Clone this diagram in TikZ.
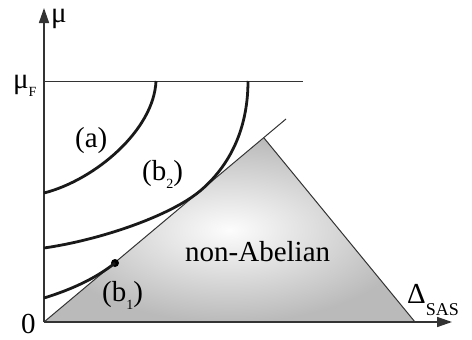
\documentclass[tikz,border=0pt]{standalone}
\usepackage{fontspec}
\setmainfont{Liberation Serif}
\newfontfamily\tms{Liberation Serif}
\usetikzlibrary{arrows.meta}
\begin{document}
\begin{tikzpicture}[x=1pt,y=-1pt]
\tikzset{
 axisline/.style={draw=black!80, line width=1.5pt, -{Triangle[length=15pt,width=10pt]}},
 thinline/.style={draw=black!80, line width=1pt},
 curveline/.style={draw=black!90, line width=2.8pt},
 lbl/.style={inner sep=0pt, font=\tms\fontsize{29}{34}\selectfont, anchor=base west},
}
\useasboundingbox (0,0) rectangle (472,340);
% key points
\coordinate (O) at (44,322);
\coordinate (ytip) at (44,8);
\coordinate (xtip) at (452,322);
\coordinate (apex) at (264,138);
\coordinate (base) at (415,322);
\coordinate (diagend) at (286,119);
\coordinate (muFl) at (44,81);
\coordinate (muFr) at (303,81);
\coordinate (a0) at (156,81);
\coordinate (a1) at (44,193);
\coordinate (b20) at (248,81);
\coordinate (b2m) at (200,191);
\coordinate (b21) at (44,248);
\coordinate (b10) at (44,298);
% shaded region
\shade[inner color=black!1, outer color=black!27] (O) -- (apex) -- (base) -- cycle;
\draw[thinline] (O) -- (diagend);
\draw[thinline] (apex) -- (base);
\draw[thinline] (muFl) -- (muFr);
% axes
\draw[axisline] (O) -- (ytip);
\draw[axisline] (O) -- (xtip);
% curves
\draw[curveline] (a0) .. controls (154,130) and (95,180) .. (a1);
\draw[curveline] (b20) .. controls (248,135) and (225,170) .. (b2m)
                 .. controls (170,216) and (100,240) .. (b21);
\node[circle, fill=black, inner sep=0pt, minimum size=8pt] (dot) at (115,263) {};
\draw[curveline] (b10) .. controls (70,290) and (95,279) .. (dot.center);
% labels
\node[lbl] (mu) at (51,22) {μ};
\node[lbl] (muF) at (13,88) {μ\raisebox{-9pt}{\fontsize{14}{14}\selectfont F}};
\node[lbl] (zero) at (21,333) {0};
\node[lbl] (la) at (75,147) {(a)};
\node[lbl] (lb2) at (142,180) {(b\raisebox{-8pt}{\fontsize{14}{14}\selectfont 2})};
\node[lbl] (lb1) at (102,301) {(b\raisebox{-8pt}{\fontsize{14}{14}\selectfont 1})};
\node[lbl] (nonab) at (185,261) {non-Abelian};
\node[lbl] (delta) at (407,303) {Δ\raisebox{-12pt}{\fontsize{18}{18}\selectfont SAS}};
\end{tikzpicture}
\end{document}
